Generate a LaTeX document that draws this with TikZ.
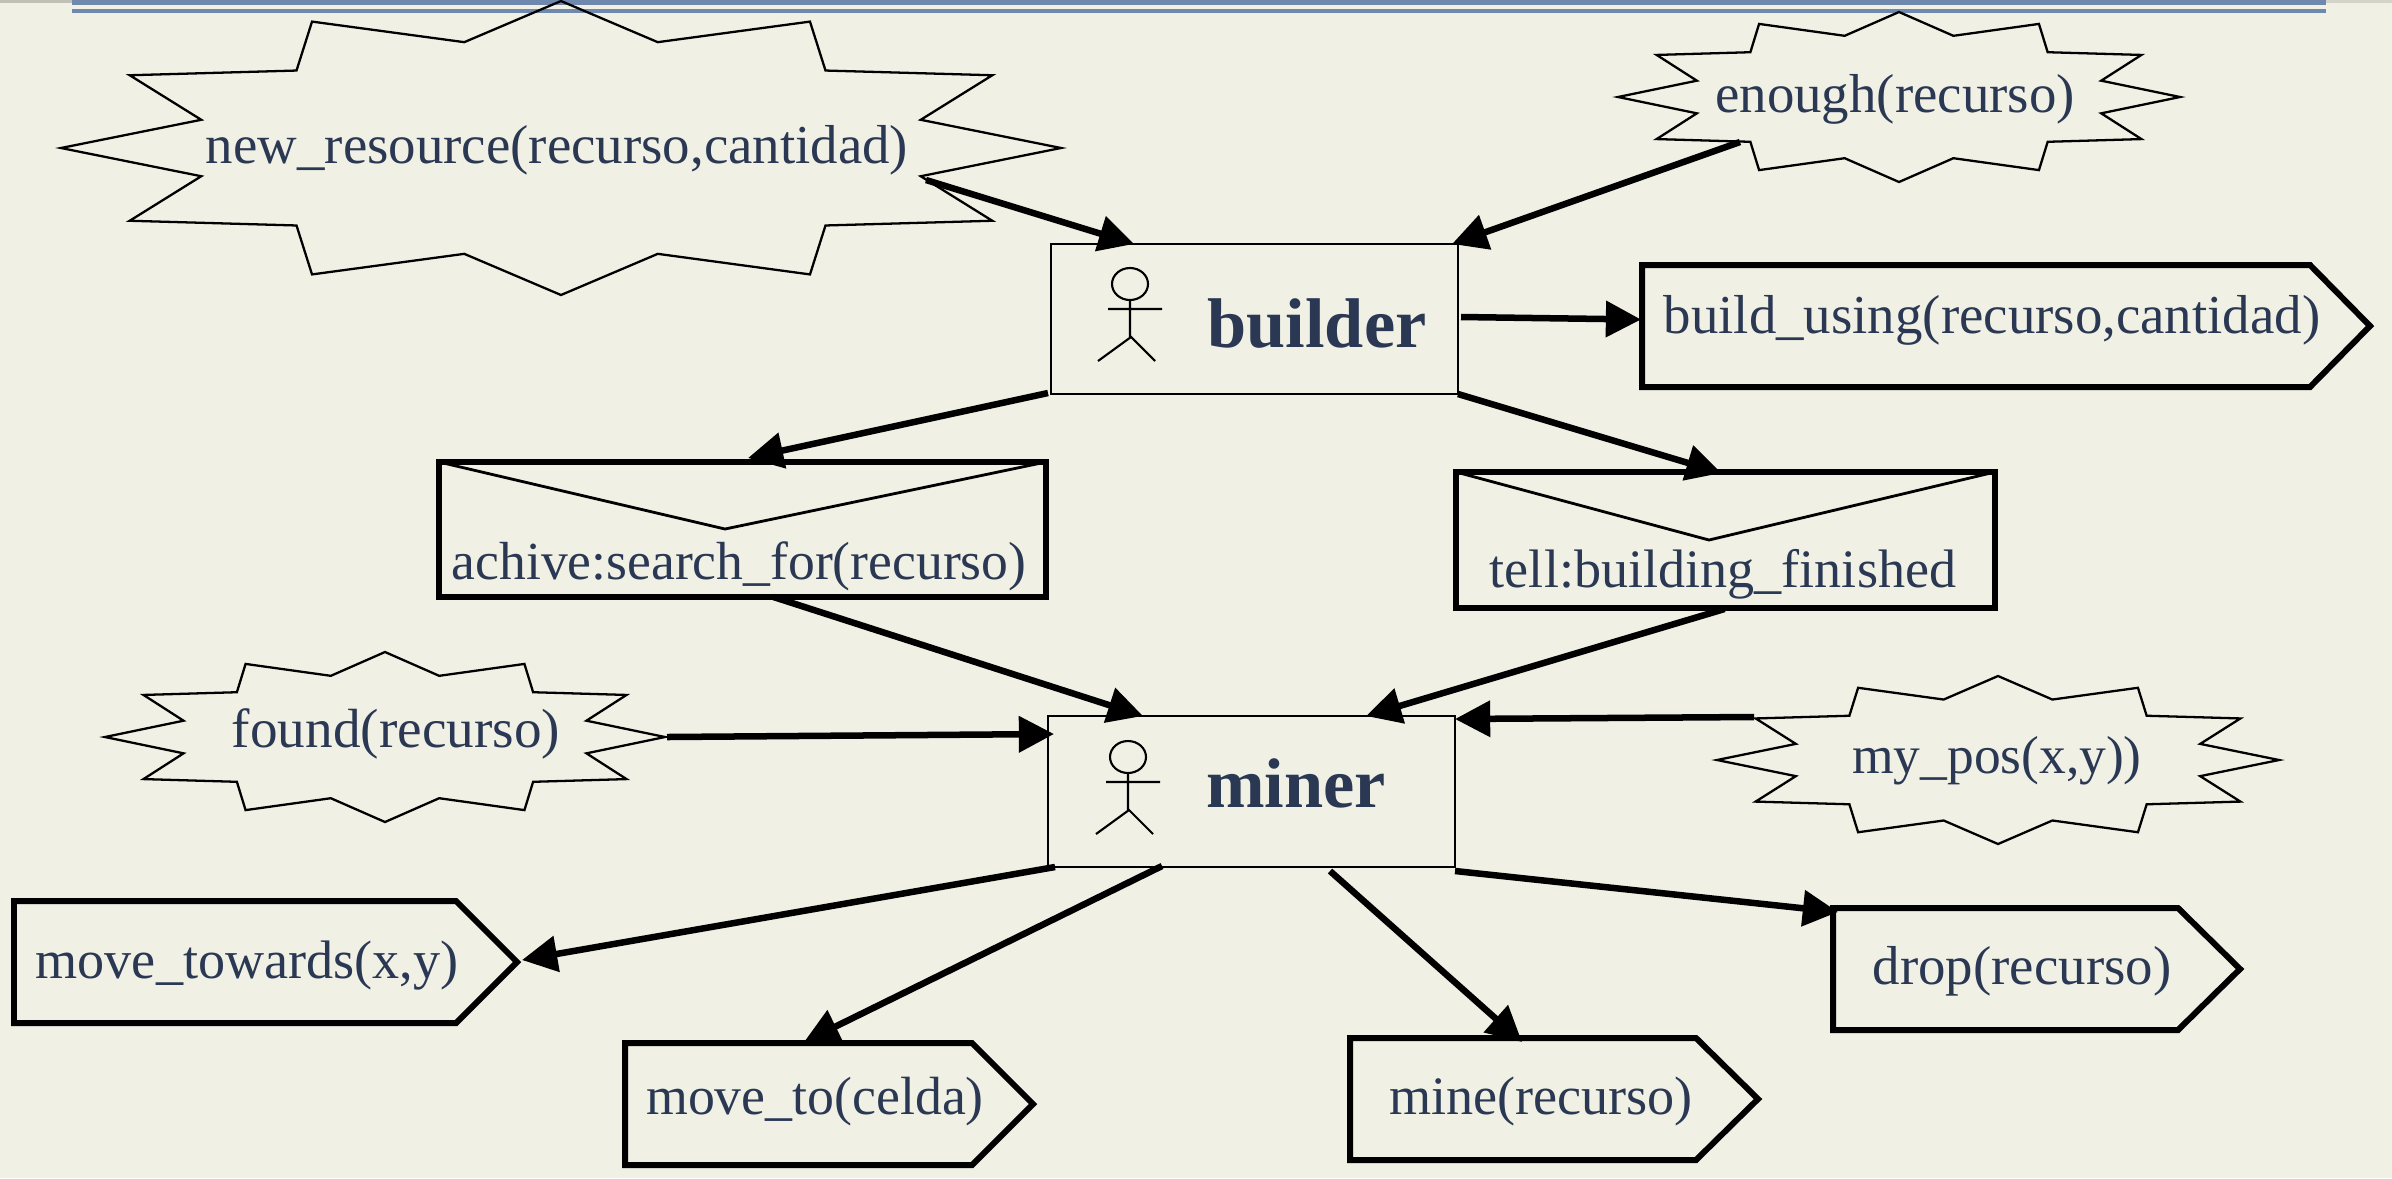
\documentclass[tikz,border=0pt]{standalone}
\usepackage{fontspec}
\setmainfont{Liberation Serif}
\usetikzlibrary{arrows.meta}
\definecolor{bgc}{HTML}{F0F0E4}
\definecolor{inkc}{HTML}{2A3853}
\definecolor{rulec}{HTML}{6F88AE}
\tikzset{
  x=0.01cm,y=-0.01cm,
  lbl/.style={text=inkc,anchor=base,inner sep=0pt,font=\fontsize{#1}{18}\selectfont},
  lbl/.default=15.4,
  blbl/.style={text=inkc,anchor=base,inner sep=0pt,font=\fontsize{20}{24}\selectfont\bfseries},
  burstline/.style={draw=black,line width=0.65pt,line join=miter},
  thickbox/.style={draw=black,line width=1.7pt,line join=miter},
  thinbox/.style={draw=black,line width=0.7pt},
  conn/.style={draw=black,line width=1.85pt,-{Triangle[length=10pt,width=10pt]}},
  actorline/.style={draw=black,line width=0.6pt},
  actor/.pic={
    \draw[actorline] (0,0) ellipse [x radius=18,y radius=16];
    \draw[actorline] (0,16) -- (0,53) (-22,25) -- (32,25)
      (-32,77) -- (1,53) -- (25,77);
  }
}
% name, cx, cy, rx, ry
\newcommand{\burstshape}[5]{%
  \node[inner sep=0pt,outer sep=0pt,minimum width=#4*0.02cm,minimum height=#5*0.02cm] (#1) at (#2,#3) {};
  \draw[burstline,shift={(#2,#3)},xscale=#4,yscale=#5]
    (0,1)--(.1935,.72)--(.498,.86)--(.529,.527)--(.8626,.495)--(.7195,.192)--(1,0)
    --(.7195,-.192)--(.8626,-.495)--(.529,-.527)--(.498,-.86)--(.1935,-.72)--(0,-1)
    --(-.1935,-.72)--(-.498,-.86)--(-.529,-.527)--(-.8626,-.495)--(-.7195,-.192)--(-1,0)
    --(-.7195,.192)--(-.8626,.495)--(-.529,.527)--(-.498,.86)--(-.1935,.72)--cycle;
}
% name, x1, y1, x2, y2, shoulder x
\newcommand{\pentashape}[6]{%
  \draw[thickbox] (#2,#3)--(#6,#3)--(#4,{(#3+#5)/2})--(#6,#5)--(#2,#5)--cycle;
  \node[inner sep=0pt,outer sep=0pt] (#1) at ({(#2+#4)/2},{(#3+#5)/2}) {};
}
% name, x1, y1, x2, y2, vx, vy
\newcommand{\envshape}[7]{%
  \draw[thickbox] (#2,#3) rectangle (#4,#5);
  \draw[line width=0.8pt] (#2,#3)--(#6,#7)--(#4,#3);
  \node[inner sep=0pt,outer sep=0pt] (#1) at ({(#2+#4)/2},{(#3+#5)/2}) {};
}
\begin{document}
\begin{tikzpicture}
\useasboundingbox (0,0) rectangle (2392,1178);
\fill[bgc] (0,0) rectangle (2392,1178);
% header rules
\fill[color=black!20!bgc] (0,0) rectangle (72,3);
\fill[color=black!12!bgc] (2326,0) rectangle (2392,3);
\fill[rulec] (72,0) rectangle (2326,4.5);
\fill[rulec] (72,8.5) rectangle (2326,13);

% bursts
\burstshape{new}{561}{148}{500}{147}
\burstshape{enough}{1899}{97}{281}{85}
\burstshape{found}{385}{737}{280}{85}
\burstshape{mypos}{1998}{760}{281}{84}
\node[lbl=15.6] (newt) at (557,163) {new\_resource(recurso,cantidad)};
\node[lbl=15.6] (enought) at (1895,112) {enough(recurso)};
\node[lbl=15.7] (foundt) at (396,747) {found(recurso)};
\node[lbl=15.2] (myt) at (1997,773) {my\_pos(x,y))};

% agents
\node[thinbox,inner sep=0pt,minimum width=407*0.01cm,minimum height=150*0.01cm] (builder) at (1254.5,319) {};
\node[thinbox,inner sep=0pt,minimum width=407*0.01cm,minimum height=151*0.01cm] (miner) at (1251.5,791.5) {};
\node[blbl] (buildert) at (1317,347) {builder};
\node[blbl] (minert) at (1296,807) {miner};
\pic at (1130,284) {actor};
\pic at (1128,757) {actor};

% actions
\pentashape{build}{1642}{265}{2370}{387}{2310}
\pentashape{towards}{14}{901}{517}{1023}{456}
\pentashape{moveto}{625}{1043}{1033}{1165}{972}
\pentashape{mine}{1350}{1038}{1758}{1160}{1696}
\pentashape{drop}{1833}{908}{2240}{1030}{2178}
\node[lbl=15.6] (buildt) at (1992,333) {build\_using(recurso,cantidad)};
\node[lbl] (towardst) at (247,978) {move\_towards(x,y)};
\node[lbl=15.3] (movetot) at (815,1114) {move\_to(celda)};
\node[lbl] (minet) at (1541,1114) {mine(recurso)};
\node[lbl=15.6] (dropt) at (2022,984) {drop(recurso)};

% messages
\envshape{achive}{439}{462}{1046}{597}{725}{529}
\envshape{tell}{1456}{472}{1995}{608}{1709}{540}
\node[lbl=15.25] (achivet) at (739,579) {achive:search\_for(recurso)};
\node[lbl] (tellt) at (1723,587) {tell:building\_finished};

% connectors (offsets from node centres)
\draw[conn] ([shift={(365,32)}]new.center) -- ([shift={(-120.5,-75)}]builder.center);
\draw[conn] ([shift={(-159,45)}]enough.center) -- ([shift={(197.5,-75)}]builder.center);
\draw[conn] ([shift={(206.5,-2)}]builder.center) -- ([shift={(-365,-6.5)}]build.center);
\draw[conn] ([shift={(-206.5,74)}]builder.center) -- ([shift={(5.5,-71.5)}]achive.center);
\draw[conn] ([shift={(203.5,75)}]builder.center) -- ([shift={(-4,-67)}]tell.center);
\draw[conn] ([shift={(31,67.5)}]achive.center) -- ([shift={(-108.5,-75.5)}]miner.center);
\draw[conn] ([shift={(-1,69)}]tell.center) -- ([shift={(114.5,-75.5)}]miner.center);
\draw[conn] ([shift={(282,0)}]found.center) -- ([shift={(-197.5,-57.5)}]miner.center);
\draw[conn] ([shift={(-244,-43)}]mypos.center) -- ([shift={(203.5,-72.5)}]miner.center);
\draw[conn] ([shift={(-196.5,75.5)}]miner.center) -- ([shift={(256.5,-2)}]towards.center);
\draw[conn] ([shift={(-89.5,74.5)}]miner.center) -- ([shift={(-25,-62)}]moveto.center);
\draw[conn] ([shift={(78.5,79.5)}]miner.center) -- ([shift={(-32,-57)}]mine.center);
\draw[conn] ([shift={(203.5,79.5)}]miner.center) -- ([shift={(-198.5,-57)}]drop.center);
\end{tikzpicture}
\end{document}
